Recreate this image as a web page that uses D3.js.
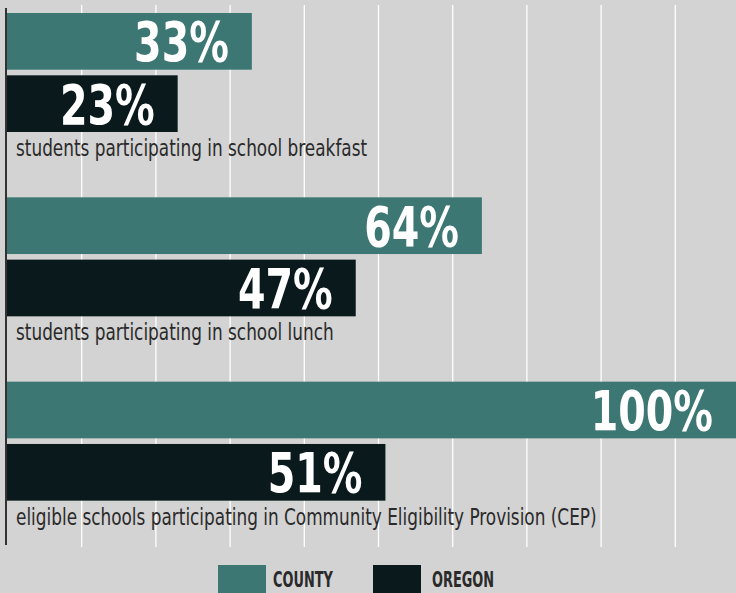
<!DOCTYPE html>
<html>
<head>
<meta charset="utf-8">
<script src="https://cdn.jsdelivr.net/npm/d3@7/dist/d3.min.js"></script>
<style>
  html, body { margin: 0; padding: 0; background: #d3d3d3; }
  svg { display: block; }
  .lbl, .val, .leg { font-family: "DejaVu Sans Condensed", "Liberation Sans Narrow", sans-serif; }
</style>
</head>
<body>
<div id="chart"></div>
<script>
// measures shown in the chart, top to bottom
var measures = [
    "students participating in school breakfast",
    "students participating in school lunch",
    "eligible schools participating in Community Eligibility Provision (CEP)"
];
var countyValues = [33, 64, 100];
var oregonValues = [23, 47, 51];
var seriesNames = ["COUNTY", "OREGON"];
var gridTicks = [10, 20, 30, 40, 50, 60, 70, 80, 90];

var width = 736, height = 593;
var colors = { COUNTY: "#3c7774", OREGON: "#0a1a1c" };

var svg = d3.select("#chart").append("svg")
    .attr("width", width)
    .attr("height", height);

var xScale = d3.scaleLinear()
    .domain([0, 100])
    .range([7, 749]);

var yGroup = d3.scaleBand()
    .domain(measures)
    .range([13, 566])
    .paddingInner(0)
    .paddingOuter(0);

var yInner = d3.scaleBand()
    .domain(seriesNames)
    .range([0, 119])
    .paddingInner(0.09);

// white vertical gridlines
var axisGrid = d3.axisBottom(xScale)
    .tickValues(gridTicks)
    .tickFormat("")
    .tickSize(542);

var grid = svg.append("g")
    .attr("class", "axis axis-grid")
    .attr("transform", "translate(0, 5)")
    .call(axisGrid);
grid.select(".domain").remove();
grid.selectAll(".tick line")
    .attr("stroke", "#ffffff")
    .attr("stroke-width", 1.3);

var rows = [];
measures.forEach(function (m, i) {
    rows.push({ measure: m, series: "COUNTY", value: countyValues[i] });
    rows.push({ measure: m, series: "OREGON", value: oregonValues[i] });
});

var bars = svg.append("g").attr("class", "bars")
    .selectAll("g")
    .data(rows)
    .enter().append("g")
    .attr("transform", function (d) {
        return "translate(0," + (yGroup(d.measure) + yInner(d.series)) + ")";
    });

bars.append("rect")
    .attr("x", xScale(0))
    .attr("y", 0)
    .attr("width", function (d) { return xScale(d.value) - xScale(0); })
    .attr("height", yInner.bandwidth())
    .attr("fill", function (d) { return colors[d.series]; });

// condensed look: squeeze glyphs horizontally
bars.append("text")
    .attr("class", "val")
    .attr("transform", function (d) {
        var x = Math.min(xScale(d.value), width) - 23;
        return "translate(" + x + "," + (yInner.bandwidth() / 2 + 20) + ") scale(0.8,1)";
    })
    .attr("text-anchor", "end")
    .attr("fill", "#ffffff")
    .attr("font-weight", "bold")
    .attr("font-size", 55)
    .text(function (d) { return d.value + "%"; });

// measure captions under each pair of bars
svg.append("g").attr("class", "captions")
    .selectAll("text")
    .data(measures)
    .enter().append("text")
    .attr("class", "lbl")
    .attr("transform", function (d) { return "translate(16," + (yGroup(d) + 143) + ") scale(0.835,1)"; })
    .attr("fill", "#2a2a2a")
    .attr("font-size", 22.5)
    .text(function (d) { return d; });

// left axis line
svg.append("line")
    .attr("x1", xScale(0) - 1).attr("x2", xScale(0) - 1)
    .attr("y1", 8).attr("y2", 545)
    .attr("stroke", "#333333")
    .attr("stroke-width", 2);

// legend
var legendX = d3.scalePoint()
    .domain(seriesNames)
    .range([218, 373]);

var legend = svg.append("g").attr("class", "legend")
    .selectAll("g")
    .data(seriesNames)
    .enter().append("g")
    .attr("transform", function (d) { return "translate(" + legendX(d) + ",565)"; });

legend.append("rect")
    .attr("width", 48)
    .attr("height", 30)
    .attr("fill", function (d) { return colors[d]; });

legend.append("text")
    .attr("class", "leg")
    .attr("transform", function (d, i) { return "translate(" + (i === 0 ? 55 : 59) + ",22) scale(0.7,1)"; })
    .attr("fill", "#2a2a2a")
    .attr("font-weight", "bold")
    .attr("font-size", 20.5)
    .text(function (d) { return d; });
</script>
</body>
</html>
